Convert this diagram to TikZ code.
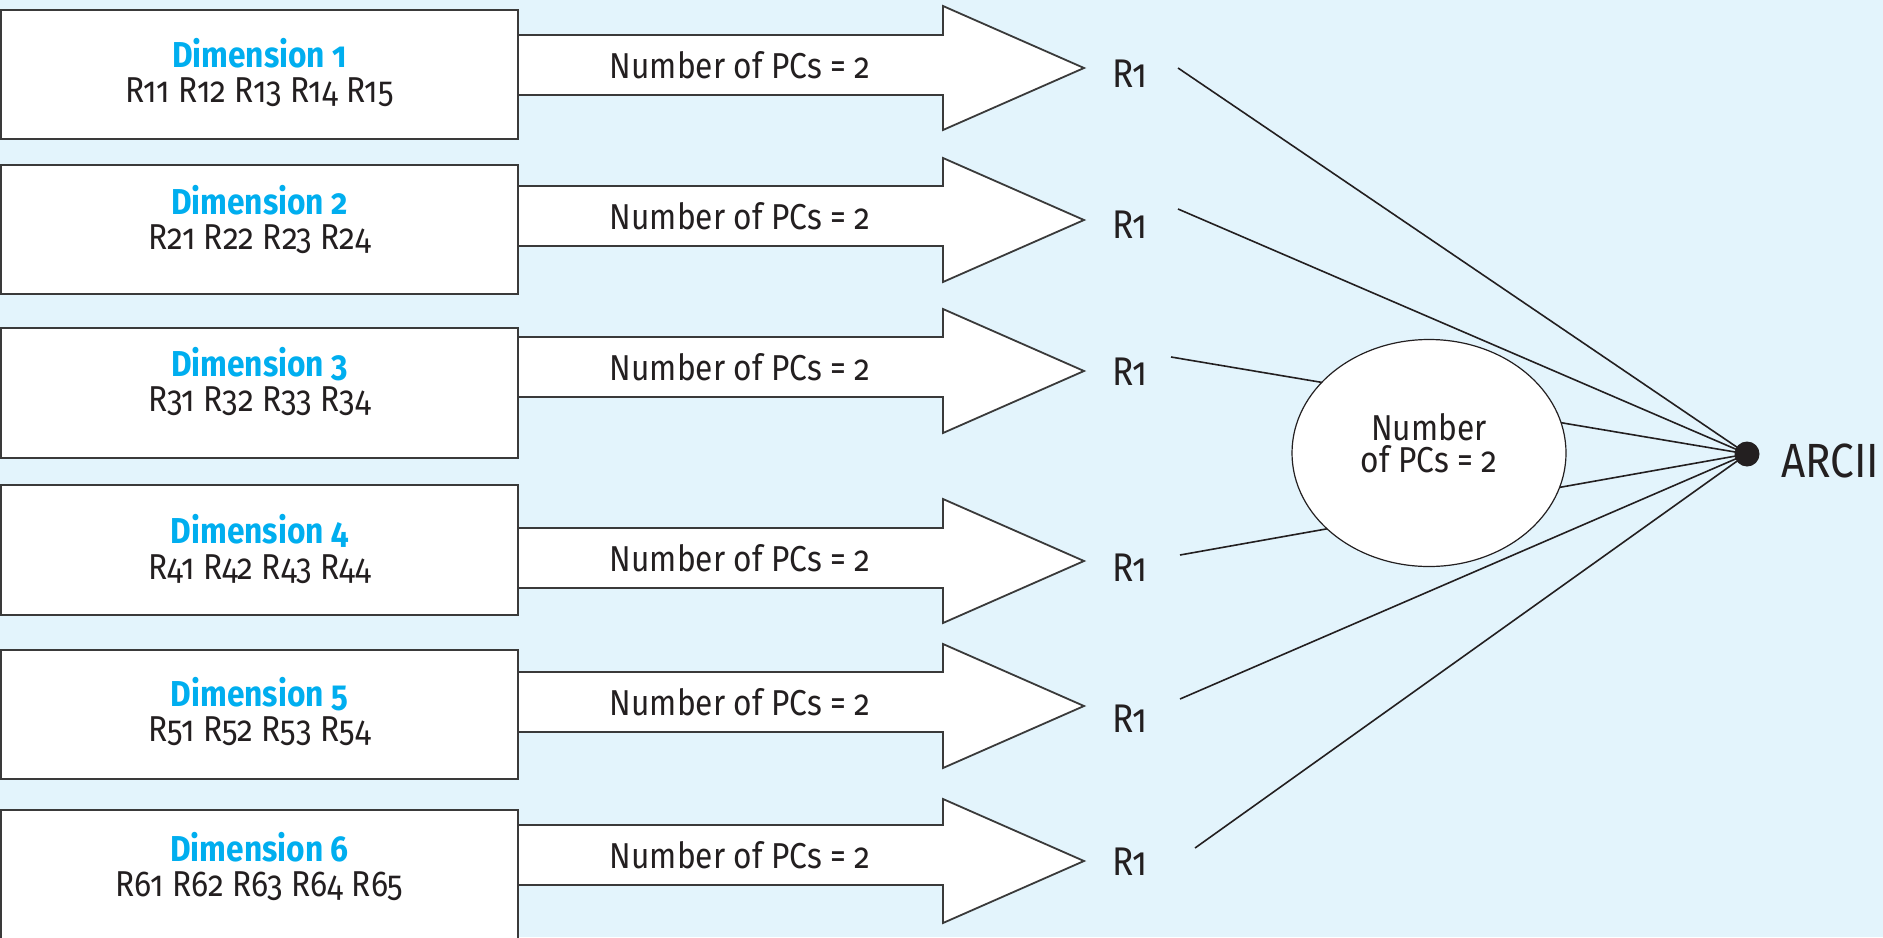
\documentclass[tikz,border=0pt]{standalone}
\usepackage{fontspec}
\setmainfont{Fira Sans}[Numbers=OldStyle, FakeStretch=0.88]
\usetikzlibrary{shapes.geometric}
\definecolor{bg}{HTML}{E3F4FC}
\definecolor{dimblue}{HTML}{00AEEF}
\definecolor{ink}{HTML}{231F20}
\definecolor{boxline}{HTML}{3A3A3A}
\begin{document}
\begin{tikzpicture}[x=0.5pt,y=-0.5pt,
  txt/.style={font=\fontsize{18}{18}\selectfont, text=ink, inner sep=0pt},
  dimbox/.style={draw=boxline, line width=1pt, fill=white, minimum width=258.5pt,
    minimum height=64.75pt, inner sep=0pt},
  dimtext/.style={align=center, text=ink, inner sep=0pt, font=\fontsize{18}{17.5}\selectfont},
  bigarrow/.style={draw=boxline, line width=0.9pt, fill=white, line join=miter},
  spoke/.style={draw=ink, line width=0.8pt}]
\useasboundingbox (0,0) rectangle (1883,937);
\fill[bg] (0,0) rectangle (1883,937);
\clip (0,0) rectangle (1883,937);

% arrows: shaft centre c, head centre h
\foreach \i/\c/\h in {1/65/68, 2/216/220, 3/367/371, 4/558/561, 5/702/706, 6/855/861}{
  \filldraw[bigarrow] (518,\c-30) -- (943,\c-30) -- (943,\h-62) -- (1084,\h)
     -- (943,\h+62) -- (943,\c+30) -- (518,\c+30);
  \node[txt] (a\i) at (740,\c) {Number of PCs = 2};
}

% dimension boxes
\node[dimbox] (d1) at (259.5,74.5) {};
\node[dimbox] (d2) at (259.5,229.5) {};
\node[dimbox] (d3) at (259.5,393) {};
\node[dimbox] (d4) at (259.5,550) {};
\node[dimbox] (d5) at (259.5,714.5) {};
\node[dimbox] (d6) at (259.5,875) {};
\node[dimtext] (t1) at (259.5,73) {\textbf{\color{dimblue}Dimension 1}\\R11 R12 R13 R14 R15};
\node[dimtext] (t2) at (259.5,220) {\textbf{\color{dimblue}Dimension 2}\\R21 R22 R23 R24};
\node[dimtext] (t3) at (259.5,382) {\textbf{\color{dimblue}Dimension 3}\\R31 R32 R33 R34};
\node[dimtext] (t4) at (259.5,549) {\textbf{\color{dimblue}Dimension 4}\\R41 R42 R43 R44};
\node[dimtext] (t5) at (259.5,711) {\textbf{\color{dimblue}Dimension 5}\\R51 R52 R53 R54};
\node[dimtext] (t6) at (259.5,866) {\textbf{\color{dimblue}Dimension 6}\\R61 R62 R63 R64 R65};

% R1 labels
\tikzset{rlab/.style={txt, font=\fontsize{20}{20}\selectfont}}
\node[rlab] (r1) at (1130,74) {R1};
\node[rlab] (r2) at (1130,225) {R1};
\node[rlab] (r3) at (1130,372) {R1};
\node[rlab] (r4) at (1130,568) {R1};
\node[rlab] (r5) at (1130,719) {R1};
\node[rlab] (r6) at (1130,862) {R1};

% ARCII point
\node[circle, fill=ink, minimum size=12.5pt, inner sep=0pt] (dot) at (1747,454) {};
\node[txt, anchor=west, font=\fontsize{24}{24}\selectfont] (arcii) at (1781,461) {ARCII};

\coordinate (s1) at (1178,68);
\coordinate (s2) at (1178,209);
\coordinate (s3) at (1171,357);
\coordinate (s4) at (1180,555);
\coordinate (s5) at (1180,699);
\coordinate (s6) at (1195,848);
\foreach \i in {1,...,6}{\draw[spoke] (s\i) -- (dot.center);}

% ellipse on top
\node[ellipse, draw=ink, line width=0.6pt, fill=white, minimum width=137pt,
  minimum height=113.5pt, inner sep=0pt, align=center, text=ink,
  font=\fontsize{18}{16}\selectfont] (pcs) at (1429,453) {Number\\of PCs = 2\\[-6pt]};
\end{tikzpicture}
\end{document}
